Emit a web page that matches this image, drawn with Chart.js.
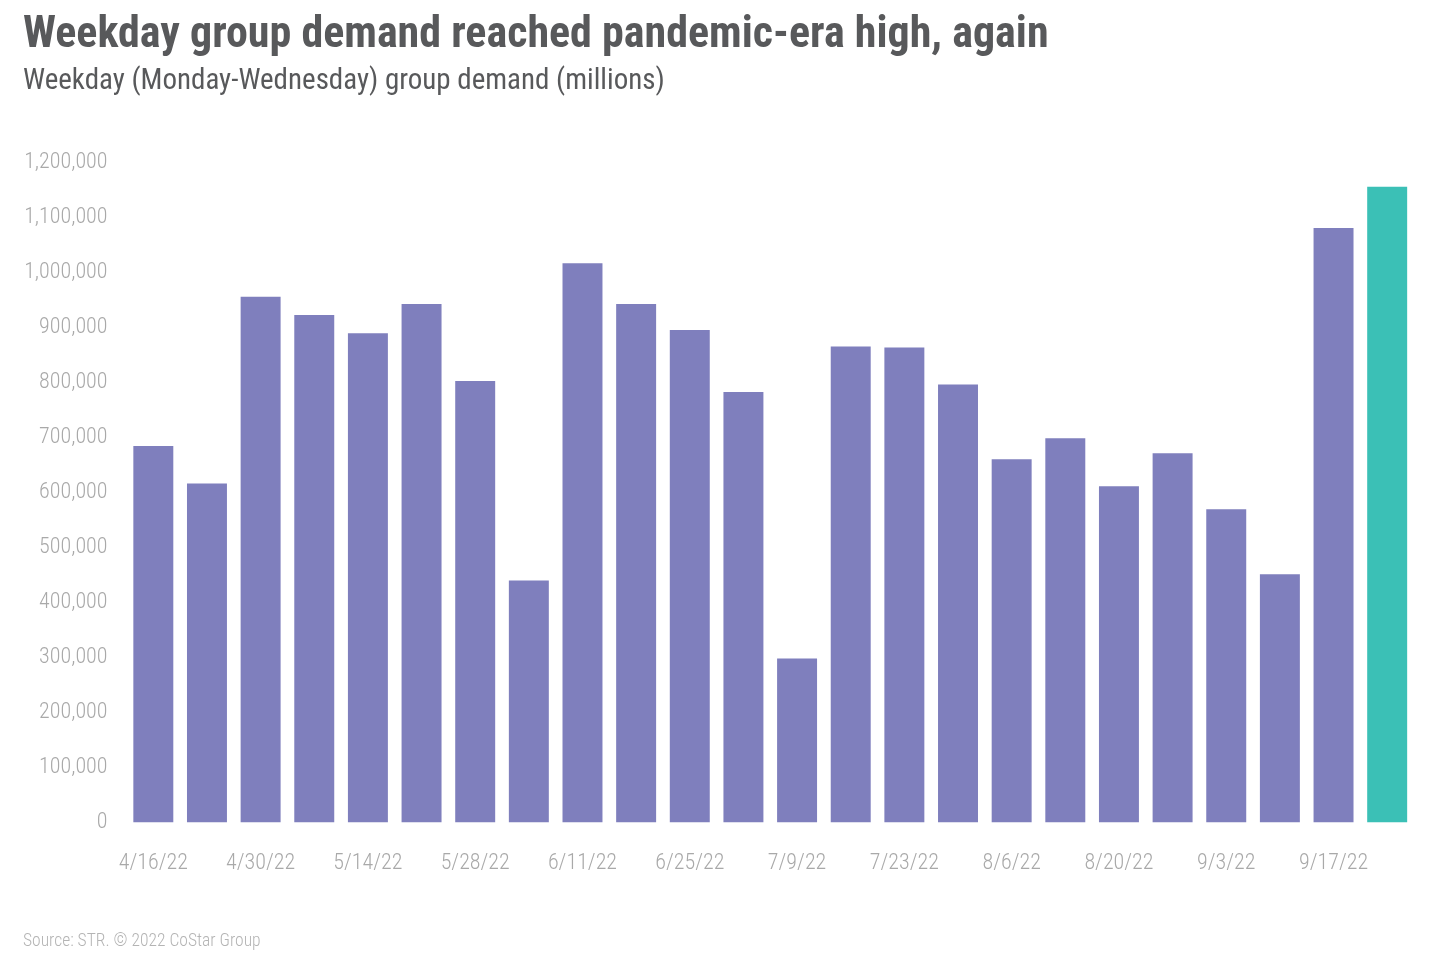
<!DOCTYPE html>
<html>
<head>
<meta charset="utf-8">
<script src="https://cdn.jsdelivr.net/npm/chart.js@4"></script>
<style>
  html, body { margin: 0; padding: 0; background: #fff; }
  #wrap { position: relative; width: 1432px; height: 966px; }
  #chart { position: absolute; left: 0; top: 0; }
  .txt { position: absolute; left: 23px; white-space: nowrap; font-family: "Roboto Condensed", Roboto, sans-serif; font-stretch: condensed; }
  #title { top: 6px; font-size: 44px; font-weight: 700; color: #58595b; }
  #subtitle { top: 62px; font-size: 29px; font-weight: 400; color: #58595b; }
  #source { top: 930px; font-size: 17.5px; font-weight: 300; color: #b4b4b4; }
</style>
</head>
<body>
<div id="wrap">
  <canvas id="chart" width="1432" height="966"></canvas>
  <div class="txt" id="title">Weekday group demand reached pandemic-era high, again</div>
  <div class="txt" id="subtitle">Weekday (Monday-Wednesday) group demand (millions)</div>
  <div class="txt" id="source">Source: STR. © 2022 CoStar Group</div>
</div>
<script>
// weekly data, week ending dates
const weeks = ['4/16/22', '4/23/22', '4/30/22', '5/7/22', '5/14/22', '5/21/22', '5/28/22', '6/4/22',
  '6/11/22', '6/18/22', '6/25/22', '7/2/22', '7/9/22', '7/16/22', '7/23/22', '7/30/22',
  '8/6/22', '8/13/22', '8/20/22', '8/27/22', '9/3/22', '9/10/22', '9/17/22', '9/24/22'];
const demand = [684000, 616000, 955000, 922000, 889000, 942000, 802000, 440000,
  1016000, 942000, 895000, 782000, 298000, 865000, 863000, 796000,
  660000, 698000, 611000, 671000, 569000, 451000, 1080000, 1155000];
const yTicks = [0, 100000, 200000, 300000, 400000, 500000, 600000, 700000, 800000, 900000, 1000000, 1100000, 1200000];

const purple = '#7f7fbd';
const teal = '#3bc0b6';
const barColors = demand.map(function(v, i) { return i === demand.length - 1 ? teal : purple; });

const tickFont = { family: "'Roboto Condensed', Roboto, sans-serif", size: 22, weight: '300 condensed' };

var ctx = document.getElementById('chart').getContext('2d');
new Chart(ctx, {
  type: 'bar',
  data: {
    labels: weeks,
    datasets: [{
      data: demand,
      backgroundColor: barColors,
      borderWidth: 0,
      barPercentage: 0.745,
      categoryPercentage: 1
    }]
  },
  options: {
    responsive: false,
    animation: false,
    layout: { padding: { top: 162, left: 23, right: 18, bottom: 61 } },
    plugins: { legend: { display: false }, tooltip: { enabled: false } },
    scales: {
      x: {
        grid: { display: false, drawTicks: false },
        border: { display: false },
        ticks: {
          autoSkip: false,
          maxRotation: 0,
          padding: 28,
          color: '#a9a9a9',
          font: tickFont,
          callback: function(val, i) { return i % 2 === 0 ? weeks[i] : ''; }
        }
      },
      y: {
        min: 0,
        max: yTicks[yTicks.length - 1],
        afterBuildTicks: function(scale) { scale.ticks = yTicks.map(function(v) { return { value: v }; }); },
        afterFit: function(scale) { scale.width = 103.5; },
        grid: { display: false, drawTicks: false },
        border: { display: false },
        ticks: {
          padding: 19,
          color: '#a9a9a9',
          font: tickFont,
          callback: function(v) { return v.toLocaleString('en-US'); }
        }
      }
    }
  }
});
</script>
</body>
</html>
